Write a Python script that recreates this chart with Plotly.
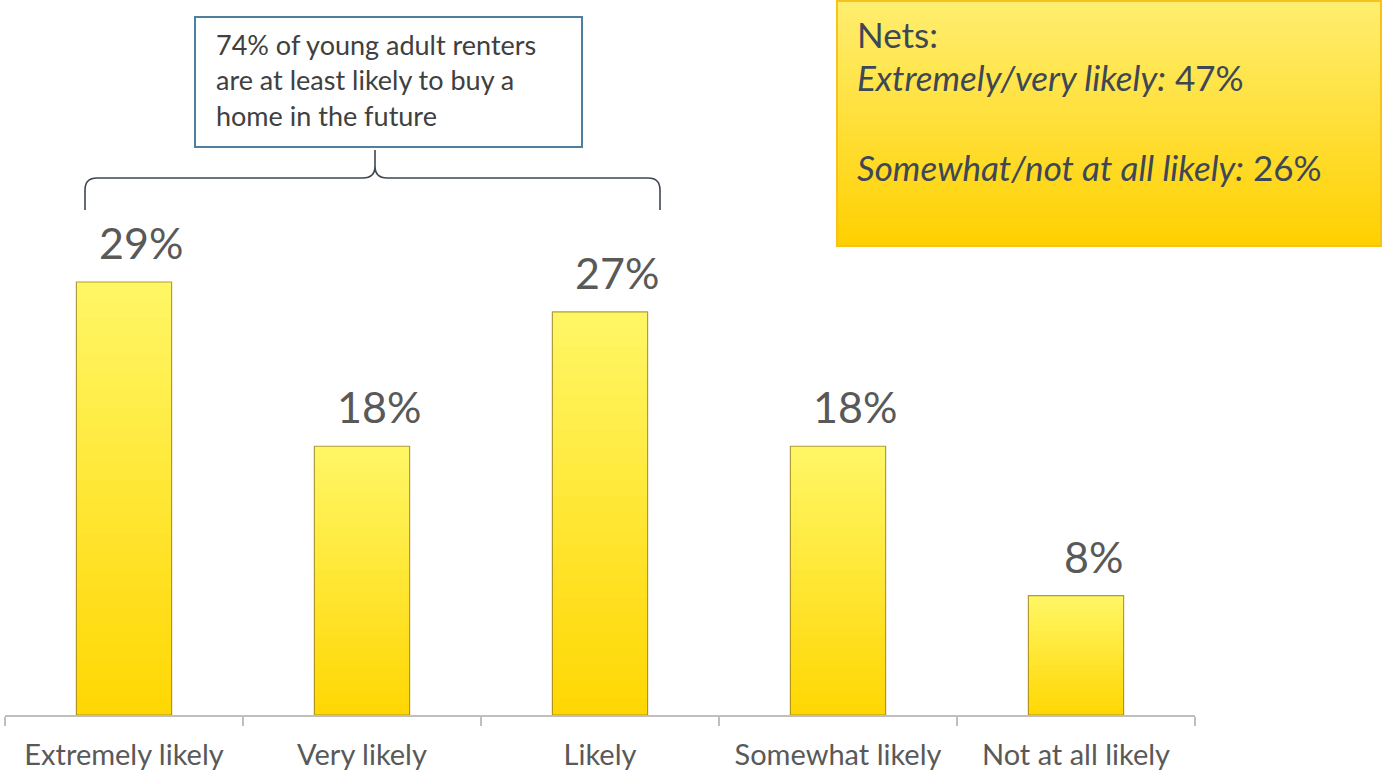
import plotly.graph_objects as go

categories = ["Extremely likely", "Very likely", "Likely", "Somewhat likely", "Not at all likely"]
values = [29, 18, 27, 18, 8]
labels = ["29%", "18%", "27%", "18%", "8%"]

callout_lines = ["74% of young adult renters", "are at least likely to buy a", "home in the future"]
nets_title = "Nets:"
nets_items = [("Extremely/very likely:", "47%"), ("Somewhat/not at all likely:", "26%")]

W, H = 1382, 775
L, R, T, B = 5, 187, 0, 60
PW = W - L - R
PH = H - T - B


def px(x):
    return (x - L) / PW


def py(y):
    return (H - B - y) / PH


def lerp(c1, c2, t):
    return "rgb(%d,%d,%d)" % tuple(round(a + (b - a) * t) for a, b in zip(c1, c2))


fig = go.Figure()

# gradient bars: overlaid bar traces, light at top -> gold at bottom
N = 24
top_c = (255, 246, 100)
bot_c = (255, 214, 0)
for k in range(N, 0, -1):
    f = k / N
    fig.add_trace(go.Bar(
        x=categories, y=[v * f for v in values], width=0.4,
        marker=dict(color=lerp(bot_c, top_c, f), line=dict(width=0)),
        hoverinfo="skip", showlegend=False,
    ))
# outline
fig.add_trace(go.Bar(
    x=categories, y=values, width=0.4,
    marker=dict(color="rgba(0,0,0,0)", line=dict(color="rgba(150,125,30,0.75)", width=1.2)),
    showlegend=False,
))

annotations = []
for c, v, lab in zip(categories, values, labels):
    annotations.append(dict(x=c, y=v, xref="x", yref="y", text=lab, showarrow=False,
                            xanchor="center", yanchor="bottom", xshift=17, yshift=12,
                            font=dict(family="Lato", size=43, color="#595959")))

shapes = []
# nets box gradient (stepped bands)
bx0, bx1, by0, by1 = 836, 1382, 0, 247
NB = 40
ntop = (255, 238, 112)
nbot = (255, 208, 0)
for i in range(NB):
    y0 = by0 + (by1 - by0) * i / NB
    y1 = by0 + (by1 - by0) * (i + 1) / NB + (1.5 if i < NB - 1 else 0)
    shapes.append(dict(type="rect", xref="paper", yref="paper",
                       x0=px(bx0), x1=px(bx1), y0=py(y1), y1=py(y0),
                       fillcolor=lerp(ntop, nbot, (i + 0.5) / NB), line=dict(width=0), layer="above"))
shapes.append(dict(type="rect", xref="paper", yref="paper",
                   x0=px(bx0 + 1), x1=px(bx1 - 1), y0=py(by1 - 1), y1=py(by0 + 1),
                   fillcolor="rgba(0,0,0,0)", line=dict(color="#F7C21A", width=2), layer="above"))

# callout box
shapes.append(dict(type="rect", xref="paper", yref="paper",
                   x0=px(195), x1=px(582), y0=py(147), y1=py(17),
                   fillcolor="white", line=dict(color="#4F7F9E", width=2), layer="above"))

# brace
pts = [("M", 85, 210), ("L", 85, 190), ("Q", 85, 178, 97, 178), ("L", 363, 178),
       ("Q", 375, 178, 375, 166), ("L", 375, 150), ("M", 375, 166), ("Q", 375, 178, 387, 178),
       ("L", 648, 178), ("Q", 660, 178, 660, 190), ("L", 660, 210)]
path = ""
for p in pts:
    cmd = p[0]
    coords = p[1:]
    s = []
    for i in range(0, len(coords), 2):
        s.append("%.5f,%.5f" % (px(coords[i]), py(coords[i + 1])))
    path += cmd + " " + " ".join(s) + " "
shapes.append(dict(type="path", xref="paper", yref="paper", path=path.strip(),
                   line=dict(color="#3E4752", width=1.6), layer="above"))

for i, line in enumerate(callout_lines):
    annotations.append(dict(x=px(214), y=py(45 + 35 * i), xref="paper", yref="paper",
                            text=line, showarrow=False, xanchor="left", yanchor="middle",
                            font=dict(family="Lato", size=27, color="#404040")))

annotations.append(dict(x=px(855), y=py(34), xref="paper", yref="paper", text=nets_title,
                        showarrow=False, xanchor="left", yanchor="middle",
                        font=dict(family="Lato", size=35, color="#3D4756")))
ny = [77, 167]
for (lab, val), yy in zip(nets_items, ny):
    annotations.append(dict(x=px(855), y=py(yy), xref="paper", yref="paper",
                            text="<i>" + lab + "</i> " + val,
                            showarrow=False, xanchor="left", yanchor="middle",
                            font=dict(family="Lato", size=35, color="#3D4756")))

fig.update_layout(
    width=W, height=H,
    margin=dict(l=L, r=R, t=T, b=B, autoexpand=False),
    paper_bgcolor="white", plot_bgcolor="white",
    barmode="overlay", bargap=0.6,
    shapes=shapes, annotations=annotations,
    xaxis=dict(type="category", tickson="boundaries", ticks="outside", ticklen=9,
               tickcolor="#BFBFBF", tickwidth=1.5, showline=True, linecolor="#BFBFBF", linewidth=1.5,
               showgrid=False, tickfont=dict(family="Lato", size=29, color="#595959"),
               ticklabelstandoff=13, automargin=False, fixedrange=True),
    yaxis=dict(range=[0, (H - B - 0) / ((H - B - 282) / 29)], visible=False, showgrid=False,
               automargin=False, fixedrange=True),
    font=dict(family="Lato"),
)

fig.write_html("out.html", config={"displayModeBar": False},
               post_script="document.body.style.margin='0';")
